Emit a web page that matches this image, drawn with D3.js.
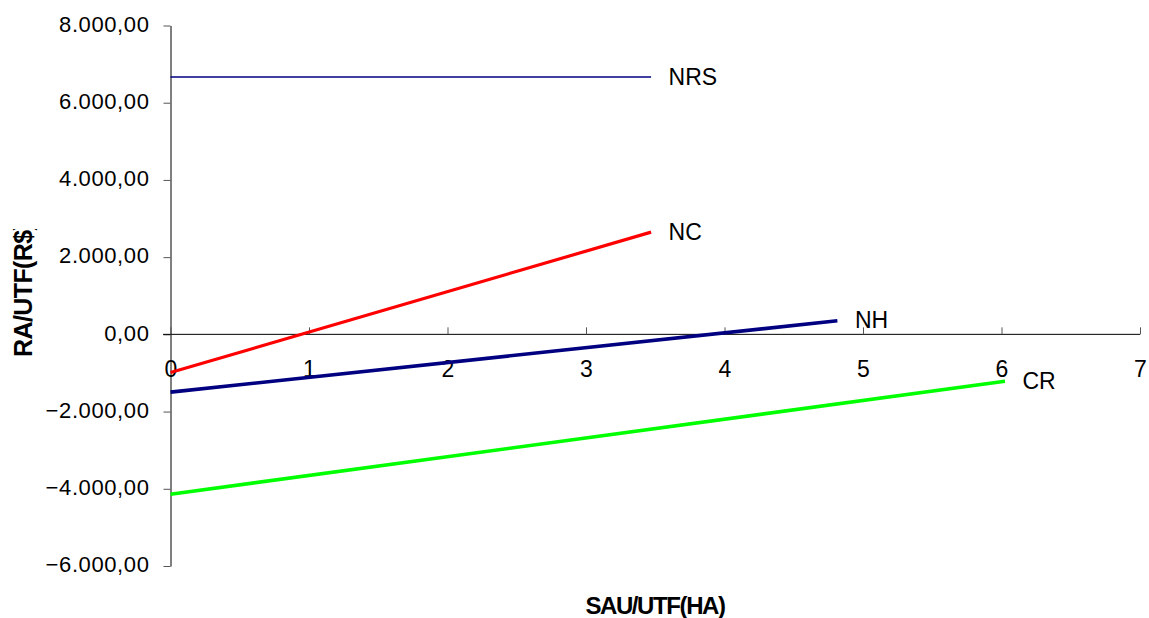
<!DOCTYPE html>
<html>
<head>
<meta charset="utf-8">
<script src="https://cdn.jsdelivr.net/npm/d3@7"></script>
<style>
  html, body { margin: 0; padding: 0; background: #fff; }
  svg { display: block; font-family: "Liberation Sans", Arial, sans-serif; }
</style>
</head>
<body>
<svg id="chart" width="1149" height="618"></svg>
<script>
// Series: each line runs between two (SAU/UTF, RA/UTF) points
const seriesNames = ["NRS", "NC", "NH", "CR"];
const seriesX = [[0, 3.47], [0, 3.47], [0, 4.815], [0, 6.025]];
const seriesY = [[6665, 6665], [-990, 2648], [-1497, 351], [-4140, -1213]];
const seriesColors = ["#000080", "#ff0000", "#000080", "#00ff00"];
const seriesWidths = [1.6, 3.2, 3.6, 3.6];

const xTicks = [0, 1, 2, 3, 4, 5, 6, 7];
const yTicks = [-6000, -4000, -2000, 0, 2000, 4000, 6000, 8000];
const xTitle = "SAU/UTF(HA)";
const yTitle = "RA/UTF(R$)";

const svg = d3.select("#chart");

const x = d3.scaleLinear().domain([0, 7]).range([170.5, 1140]);
const y = d3.scaleLinear().domain([-6000, 8000]).range([566, 25.5]);

// Brazilian-style number format: 8.000,00
const ptBR = d3.formatLocale({ decimal: ",", thousands: ".", grouping: [3], currency: ["R$", ""] });
const fmtY = ptBR.format(",.2f");

// Y axis (ticks pointing outwards to the left)
const yAxis = d3.axisLeft(y).tickValues(yTicks).tickSize(7).tickSizeOuter(0).tickPadding(0).tickFormat(fmtY);
const gy = svg.append("g").attr("transform", "translate(170.5,0)").call(yAxis);
gy.select(".domain").attr("stroke", "#000").attr("stroke-width", 1);
gy.selectAll(".tick line").attr("stroke", "#555");
gy.selectAll(".tick text")
  .attr("x", -21)
  .attr("dy", "0.26em")
  .attr("font-size", 22)
  .attr("letter-spacing", 0.6)
  .attr("fill", "#000")
  .attr("font-family", "Liberation Sans, Arial, sans-serif");

// X axis drawn through zero, ticks pointing up, labels well below the line
const xAxis = d3.axisTop(x).tickValues(xTicks).tickSize(7).tickSizeOuter(0).tickFormat(d3.format("d"));
const gx = svg.append("g").attr("transform", `translate(0,${y(0)})`).call(xAxis);
gx.select(".domain").attr("d", `M163,0H${x(7)}`).attr("stroke", "#000").attr("stroke-width", 1);
gx.selectAll(".tick line").attr("stroke", "#555");
gx.selectAll(".tick text")
  .attr("y", 43)
  .attr("dy", 0)
  .attr("font-size", 23)
  .attr("fill", "#000")
  .attr("font-family", "Liberation Sans, Arial, sans-serif");

// Lines
const line = d3.line().x(d => x(d[0])).y(d => y(d[1]));
const series = seriesNames.map((name, i) => ({
  name,
  pts: seriesX[i].map((xv, j) => [xv, seriesY[i][j]]),
  color: seriesColors[i],
  width: seriesWidths[i]
}));

svg.append("g").selectAll("path")
  .data(series)
  .join("path")
  .attr("d", d => line(d.pts))
  .attr("fill", "none")
  .attr("stroke", d => d.color)
  .attr("stroke-width", d => d.width);

// Series labels at the end of each line
svg.append("g").selectAll("text")
  .data(series)
  .join("text")
  .attr("x", d => x(d.pts[1][0]) + 17.5)
  .attr("y", d => y(d.pts[1][1]) + 7.5)
  .attr("font-size", 23)
  .attr("fill", "#000")
  .text(d => d.name);

// Axis titles
svg.append("text")
  .attr("x", 655)
  .attr("y", 614)
  .attr("text-anchor", "middle")
  .attr("font-size", 24)
  .attr("font-weight", "bold")
  .attr("letter-spacing", -1.4)
  .attr("fill", "#000")
  .text(xTitle);

svg.append("clipPath").attr("id", "ytitle-clip")
  .append("rect").attr("x", 0).attr("y", 229).attr("width", 60).attr("height", 200);

svg.append("g").attr("clip-path", "url(#ytitle-clip)")
  .append("text")
  .attr("transform", "translate(32,357) rotate(-90)")
  .attr("text-anchor", "start")
  .attr("font-size", 25)
  .attr("font-weight", "bold")
  .attr("letter-spacing", -0.6)
  .attr("fill", "#000")
  .text(yTitle);
</script>
</body>
</html>
